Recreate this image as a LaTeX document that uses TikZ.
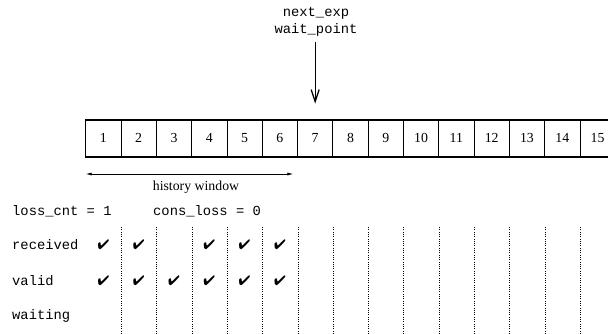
\documentclass[tikz,border=0pt]{standalone}
\usepackage{fontspec}
\setmainfont{Liberation Serif}
\setmonofont{Liberation Mono}
\usepackage{pifont}
\usetikzlibrary{arrows.meta}
\newcommand\figsize{\fontsize{13.8}{17}\selectfont}
\tikzset{
    every node/.style={font=\figsize},
    cell/.style={draw,line width=0.7pt,minimum width=35.3pt,minimum height=36.7pt,inner sep=0pt},
    tick/.style={inner sep=0pt},
    rowlabel/.style={anchor=west,inner sep=0pt,font=\figsize\ttfamily},
    slotline/.style={line width=0.6pt,dash pattern=on 1pt off 1.3pt},
}
\begin{document}
\begin{tikzpicture}[x=1pt,y=1pt]
    \useasboundingbox (0,0) rectangle (608,-333);
    \clip (0,0) rectangle (608,-333);
    %% sequence cells
    \foreach \i in {1,...,15}
        \node[cell] (c\i) at (85.7+35.3*\i-17.65,-138.35) {\i};
    \draw[line width=1.4pt] (c1.south west) rectangle (c15.north east);
    %% pointer
    \node[align=center,font=\figsize\ttfamily] (ptr) at (316,-22) {next\_exp\\wait\_point};
    \draw[line width=1.3pt,-{Straight Barb[length=12pt,width=8pt]},shorten <=2pt,shorten >=16pt]
        (ptr.south -| c7.north) -- (c7.north);
    %% history window
    \coordinate (hwl) at (85.7,-174);
    \coordinate (hwr) at (293.3,-174);
    \draw[line width=0.7pt,{Latex[length=6pt,width=3pt]}-{Latex[length=6pt,width=3pt]}] (hwl) -- (hwr);
    \node (hwin) at (196,-187) {history window};
    %% counters
    \node[rowlabel] (losscnt) at (12,-211) {loss\_cnt = 1};
    \node[rowlabel] (consloss) at (153,-211) {cons\_loss = 0};
    %% rows
    \foreach \lbl/\y in {received/245,valid/281,waiting/316}
        \node[rowlabel] (\lbl) at (12,-\y) {\lbl};
    \foreach \i in {1,...,14}
        \draw[slotline] (c\i.south east |- 0,-227) -- (c\i.south east |- 0,-333);
    \foreach \i in {1,2,4,5,6}
        \node[tick] (r\i) at (c\i |- received) {\ding{52}};
    \foreach \i in {1,...,6}
        \node[tick] (v\i) at (c\i |- valid) {\ding{52}};
\end{tikzpicture}
\end{document}
